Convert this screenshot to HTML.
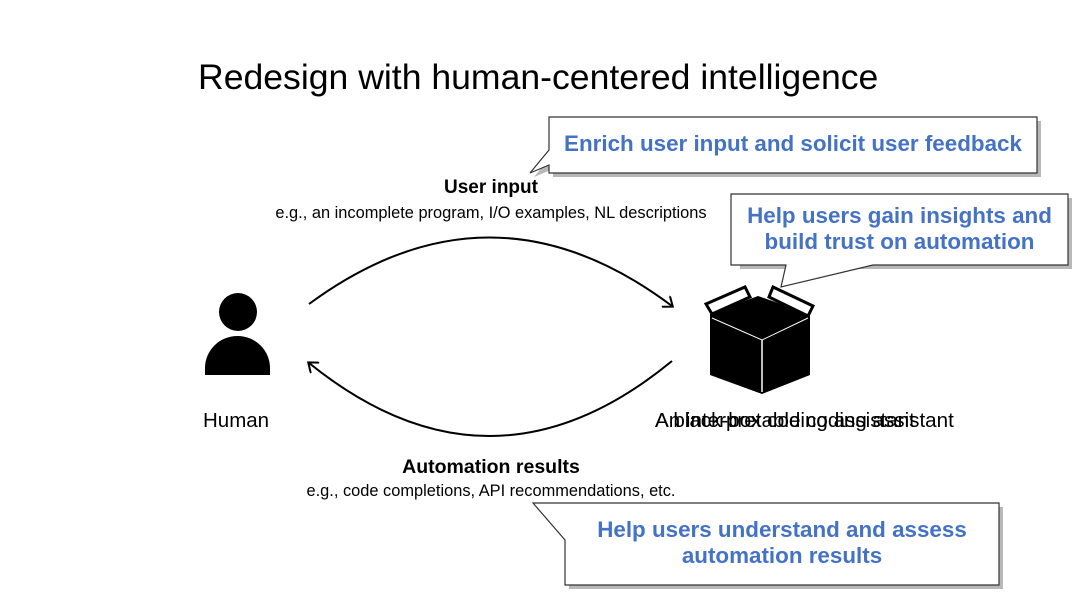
<!DOCTYPE html>
<html><head><style>
body{margin:0;width:1080px;height:608px;background:#fff;overflow:hidden;position:relative;font-family:"Liberation Sans",sans-serif}
.t{position:absolute;white-space:nowrap}
.c{text-align:center;transform:translateX(-50%)}
.blue{color:#4472c4;font-weight:bold;font-size:22.4px;line-height:26px;text-align:center}
</style></head><body>
<div class="t" style="left:198px;top:57px;font-size:35.6px;color:#000">Redesign with human-centered intelligence</div>
<svg width="1080" height="608" style="position:absolute;left:0;top:0">
<defs><marker id="a" markerWidth="14" markerHeight="14" refX="8" refY="7" orient="auto" markerUnits="userSpaceOnUse"><path d="M0,0 L9,7 L0,14" fill="none" stroke="#000" stroke-width="2"/></marker></defs>
<path d="M553,121 L1041,121 L1041,177 L553,177 L553,169 L534,177 L553,154 Z" fill="#888" opacity="0.6"/>
<path d="M549,117 L1037,117 L1037,173 L549,173 L549,165 L530,173 L549,150 Z" fill="#fff" stroke="#333" stroke-width="1.2"/>
<path d="M735,198 L1072,198 L1072,269 L740,269 Z" fill="#888" opacity="0.6"/>
<path d="M731,194 L1068,194 L1068,265 L873,265 L781,287 L786,265 L731,265 Z" fill="#fff" stroke="#333" stroke-width="1.2"/>
<path d="M569,507 L1003,507 L1003,589 L569,589 Z" fill="#888" opacity="0.6"/>
<path d="M565,503 L999,503 L999,585 L565,585 L565,540 L533,503 Z" fill="#fff" stroke="#333" stroke-width="1.2"/>
<path d="M309,304 Q491,170 672,306" fill="none" stroke="#000" stroke-width="2" marker-end="url(#a)"/>
<path d="M672,361 Q491,510 309,363" fill="none" stroke="#000" stroke-width="2" marker-end="url(#a)"/>
<circle cx="238" cy="312" r="19" fill="#000"/>
<path d="M205,375 L205,368 A32.5,32 0 0 1 270,368 L270,375 Z" fill="#000"/>
<g>
<path d="M710,314 L758,296 L810,314 L810,375 L762,394 L710,375 Z" fill="#000"/>
<path d="M712,318 L762,340 L808,318" fill="none" stroke="#fff" stroke-width="1"/>
<path d="M762,340 L762,392" stroke="#fff" stroke-width="1.5"/>
<path d="M706,304 L745,287 L750,297 L712,314 Z" fill="#fff" stroke="#000" stroke-width="3"/>
<path d="M773,287 L813,306 L808,316 L769,297 Z" fill="#fff" stroke="#000" stroke-width="3"/>
</g>
</svg>
<div class="t blue" style="left:549px;top:131px;width:488px">Enrich user input and solicit user feedback</div>
<div class="t blue" style="left:731px;top:203px;width:337px">Help users gain insights and<br>build trust on automation</div>
<div class="t blue" style="left:565px;top:517px;width:434px">Help users understand and assess<br>automation results</div>
<div class="t c" style="left:491px;top:177px;font-size:19px;font-weight:bold">User input</div>
<div class="t c" style="left:491px;top:204px;font-size:16.4px">e.g., an incomplete program, I/O examples, NL descriptions</div>
<div class="t c" style="left:491px;top:456px;font-size:19.5px;font-weight:bold">Automation results</div>
<div class="t c" style="left:491px;top:482px;font-size:16.4px">e.g., code completions, API recommendations, etc.</div>
<div class="t" style="left:203px;top:409px;font-size:20.5px">Human</div>
<div class="t" style="left:655px;top:409px;font-size:20.6px">A black-box coding assistant</div>
<div class="t" style="left:655px;top:409px;font-size:20.6px">An interpretable coding assistant</div>
</body></html>
